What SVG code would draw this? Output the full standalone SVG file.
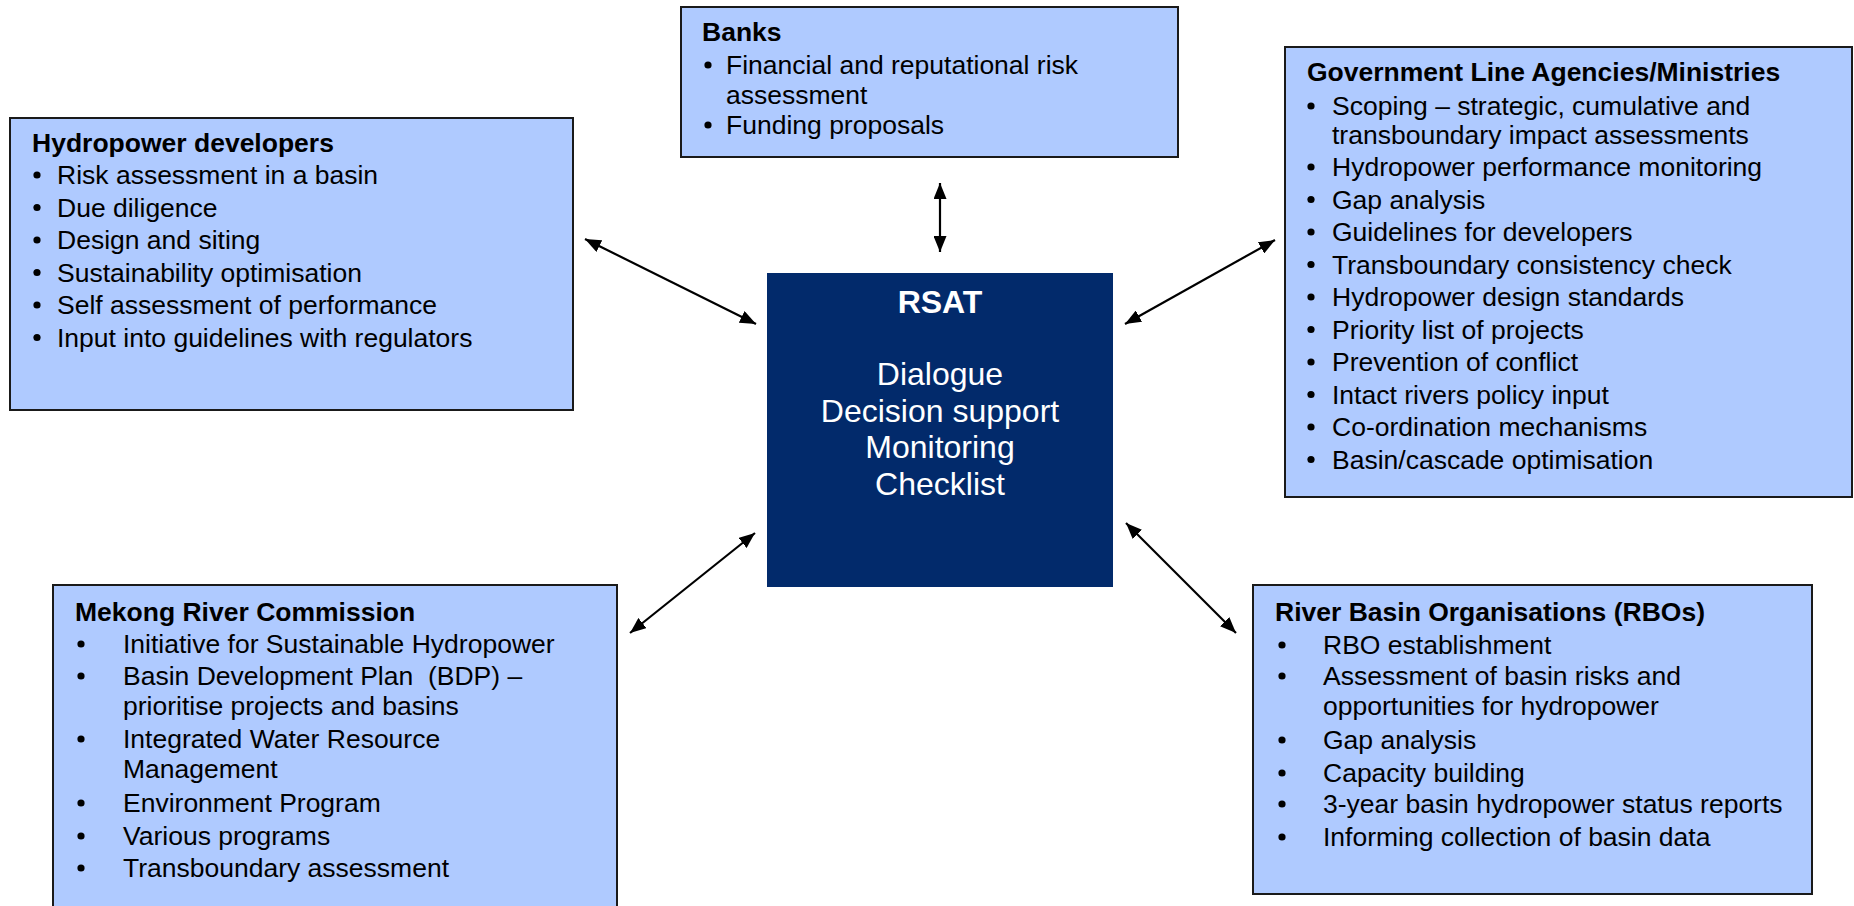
<svg xmlns="http://www.w3.org/2000/svg" width="1854" height="906" viewBox="0 0 1854 906">
<style>
.box{fill:#afcaff;stroke:#1a1a1a;stroke-width:2}
.t{font-family:"Liberation Sans",Arial,sans-serif;font-size:26.5px;fill:#000}
.h{font-family:"Liberation Sans",Arial,sans-serif;font-size:26.5px;font-weight:bold;fill:#000}
.b{fill:#000}
.c{font-family:"Liberation Sans",Arial,sans-serif;font-size:32px;fill:#fff;text-anchor:middle}
.conn{stroke:#000;stroke-width:2.2;fill:none;marker-start:url(#ah);marker-end:url(#ah)}
</style>
<defs>
<marker id="ah" markerUnits="userSpaceOnUse" markerWidth="16" markerHeight="13" refX="16" refY="6.5" orient="auto-start-reverse">
<path d="M0,0 L16,6.5 L0,13 z" fill="#000"/>
</marker>
</defs>
<rect width="1854" height="906" fill="#fff"/>

<g id="banks">
<rect class="box" x="681" y="7" width="497" height="150"/>
<text class="h" x="702" y="41">Banks</text>
<circle class="b" cx="708" cy="65" r="3.6"/>
<text class="t" x="726" y="74">Financial and reputational risk</text>
<text class="t" x="726" y="104">assessment</text>
<circle class="b" cx="708" cy="125" r="3.6"/>
<text class="t" x="726" y="134">Funding proposals</text>
</g>

<g id="hydropower-developers">
<rect class="box" x="10" y="118" width="563" height="292"/>
<text class="h" x="32" y="152">Hydropower developers</text>
<circle class="b" cx="37" cy="175" r="3.6"/>
<text class="t" x="57" y="184">Risk assessment in a basin</text>
<circle class="b" cx="37" cy="207.5" r="3.6"/>
<text class="t" x="57" y="216.5">Due diligence</text>
<circle class="b" cx="37" cy="240" r="3.6"/>
<text class="t" x="57" y="249">Design and siting</text>
<circle class="b" cx="37" cy="272.5" r="3.6"/>
<text class="t" x="57" y="281.5">Sustainability optimisation</text>
<circle class="b" cx="37" cy="305" r="3.6"/>
<text class="t" x="57" y="314">Self assessment of performance</text>
<circle class="b" cx="37" cy="337.5" r="3.6"/>
<text class="t" x="57" y="346.5">Input into guidelines with regulators</text>
</g>

<g id="government">
<rect class="box" x="1285" y="47" width="567" height="450"/>
<text class="h" x="1307" y="81">Government Line Agencies/Ministries</text>
<circle class="b" cx="1311" cy="106" r="3.6"/>
<text class="t" x="1332" y="115">Scoping – strategic, cumulative and</text>
<text class="t" x="1332" y="144">transboundary impact assessments</text>
<circle class="b" cx="1311" cy="167" r="3.6"/>
<text class="t" x="1332" y="176">Hydropower performance monitoring</text>
<circle class="b" cx="1311" cy="199.5" r="3.6"/>
<text class="t" x="1332" y="208.5">Gap analysis</text>
<circle class="b" cx="1311" cy="232" r="3.6"/>
<text class="t" x="1332" y="241">Guidelines for developers</text>
<circle class="b" cx="1311" cy="264.5" r="3.6"/>
<text class="t" x="1332" y="273.5">Transboundary consistency check</text>
<circle class="b" cx="1311" cy="297" r="3.6"/>
<text class="t" x="1332" y="306">Hydropower design standards</text>
<circle class="b" cx="1311" cy="329.5" r="3.6"/>
<text class="t" x="1332" y="338.5">Priority list of projects</text>
<circle class="b" cx="1311" cy="362" r="3.6"/>
<text class="t" x="1332" y="371">Prevention of conflict</text>
<circle class="b" cx="1311" cy="394.5" r="3.6"/>
<text class="t" x="1332" y="403.5">Intact rivers policy input</text>
<circle class="b" cx="1311" cy="427" r="3.6"/>
<text class="t" x="1332" y="436">Co-ordination mechanisms</text>
<circle class="b" cx="1311" cy="459.5" r="3.6"/>
<text class="t" x="1332" y="468.5">Basin/cascade optimisation</text>
</g>

<g id="rsat">
<rect x="767" y="273" width="346" height="314" fill="#022a6b"/>
<text class="c" x="940" y="313" font-weight="bold" font-size="31">RSAT</text>
<text class="c" x="940" y="385">Dialogue</text>
<text class="c" x="940" y="422">Decision support</text>
<text class="c" x="940" y="458">Monitoring</text>
<text class="c" x="940" y="495">Checklist</text>
</g>

<g id="mekong-river-commission">
<rect class="box" x="53" y="585" width="564" height="330"/>
<text class="h" x="75" y="621">Mekong River Commission</text>
<circle class="b" cx="81" cy="644" r="3.6"/>
<text class="t" x="123" y="653">Initiative for Sustainable Hydropower</text>
<circle class="b" cx="81" cy="676" r="3.6"/>
<text class="t" x="123" y="685">Basin Development Plan&#160; (BDP) –</text>
<text class="t" x="123" y="715">prioritise projects and basins</text>
<circle class="b" cx="81" cy="739" r="3.6"/>
<text class="t" x="123" y="748">Integrated Water Resource</text>
<text class="t" x="123" y="778">Management</text>
<circle class="b" cx="81" cy="803" r="3.6"/>
<text class="t" x="123" y="812">Environment Program</text>
<circle class="b" cx="81" cy="836" r="3.6"/>
<text class="t" x="123" y="845">Various programs</text>
<circle class="b" cx="81" cy="868" r="3.6"/>
<text class="t" x="123" y="877">Transboundary assessment</text>
</g>

<g id="river-basin-organisations">
<rect class="box" x="1253" y="585" width="559" height="309"/>
<text class="h" x="1275" y="621">River Basin Organisations (RBOs)</text>
<circle class="b" cx="1282" cy="645" r="3.6"/>
<text class="t" x="1323" y="654">RBO establishment</text>
<circle class="b" cx="1282" cy="676" r="3.6"/>
<text class="t" x="1323" y="685">Assessment of basin risks and</text>
<text class="t" x="1323" y="715">opportunities for hydropower</text>
<circle class="b" cx="1282" cy="740" r="3.6"/>
<text class="t" x="1323" y="749">Gap analysis</text>
<circle class="b" cx="1282" cy="773" r="3.6"/>
<text class="t" x="1323" y="782">Capacity building</text>
<circle class="b" cx="1282" cy="804" r="3.6"/>
<text class="t" x="1323" y="813">3-year basin hydropower status reports</text>
<circle class="b" cx="1282" cy="837" r="3.6"/>
<text class="t" x="1323" y="846">Informing collection of basin data</text>
</g>

<g id="connectors">
<line class="conn" x1="940" y1="183" x2="940" y2="252"/>
<line class="conn" x1="585" y1="239" x2="756" y2="324"/>
<line class="conn" x1="1275" y1="240" x2="1125" y2="324"/>
<line class="conn" x1="630" y1="633" x2="755" y2="533"/>
<line class="conn" x1="1126" y1="523" x2="1236" y2="633"/>
</g>
</svg>
